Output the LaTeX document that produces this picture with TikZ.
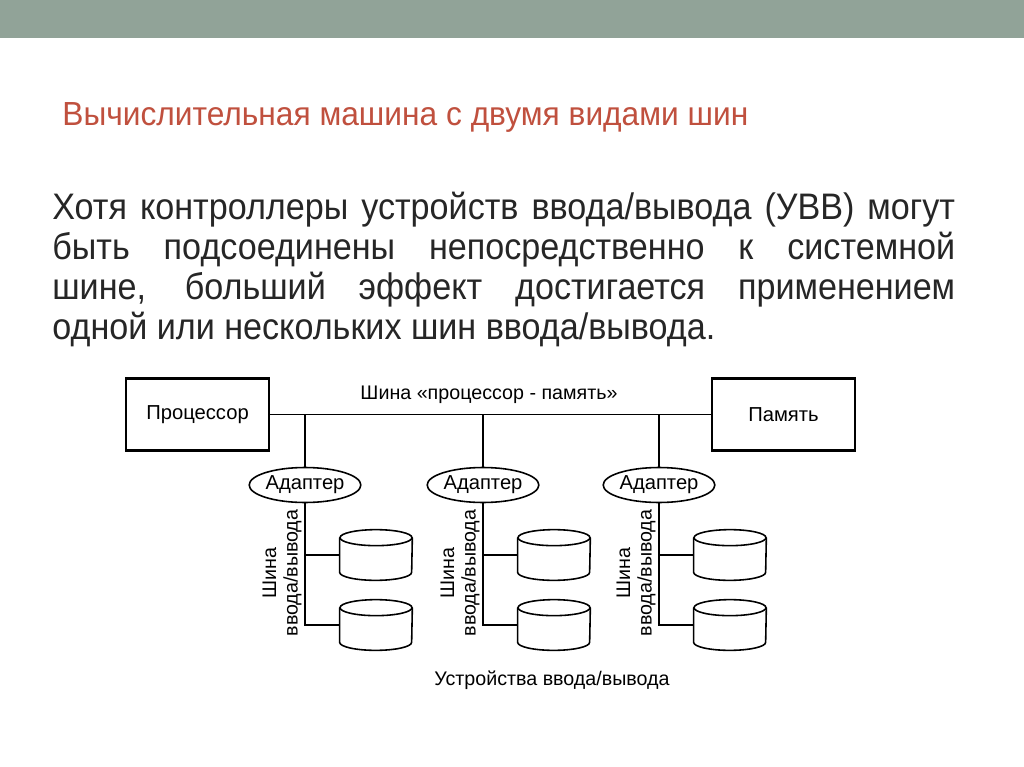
\documentclass[tikz,border=0pt]{standalone}
\usepackage{fontspec}
\setmainfont{Liberation Sans}
\newfontfamily\titlefont[FakeStretch=0.95]{Liberation Sans}
\newfontfamily\slidefont[FakeStretch=0.925]{Liberation Sans}
\usepackage{tikz}
\usetikzlibrary{shapes.geometric}
\definecolor{topband}{RGB}{145,163,152}
\definecolor{titlered}{RGB}{192,80,62}
\definecolor{bodytext}{RGB}{38,38,38}

\tikzset{
	unitbox/.style={draw, line width=1.6pt, minimum width=2.86cm, minimum height=1.44cm, inner sep=0pt, font=\fontsize{11.5}{13}\selectfont},
	adapter/.style={ellipse, draw, line width=0.9pt, minimum width=2.14cm, minimum height=0.7cm, inner sep=0pt, font=\fontsize{11.5}{13}\selectfont},
	disk/.style={minimum width=1.44cm, minimum height=1cm, inner sep=0pt},
	bus/.style={line width=0.9pt},
	buslabel/.style={inner sep=0pt, font=\fontsize{11.2}{12.2}\selectfont}
}

\begin{document}
\begin{tikzpicture}[x=0.02cm, y=-0.02cm]
	\useasboundingbox (0,0) rectangle (1024,767);
	\fill[white] (0,0) rectangle (1024,767);
	\fill[topband] (0,0) rectangle (1024,38);
	
	\node[anchor=base west, inner sep=0pt, text=titlered, font=\titlefont\fontsize{19}{23}\selectfont] (title) at (62,126) {Вычислительная машина с двумя видами шин};
	\node[anchor=north west, inner sep=0pt, text width=18.06cm, align=justify, text=bodytext, font=\slidefont\fontsize{21}{22.7}\selectfont] (body) at (52,192)
		{Хотя контроллеры устройств ввода/вывода (УВВ) могут\linebreak быть подсоединены непосредственно к системной\linebreak шине, больший эффект достигается применением\linebreak одной или нескольких шин ввода/вывода.};
	
	\node[unitbox] (cpu) at (197.5,414.5) {Процессор};
	\node[unitbox] (mem) at (783.5,414.5) {Память};
	\draw[bus] (cpu.east) -- (mem.west);
	\node[buslabel] (bustitle) at (489,395) {Шина «процессор - память»};
	
	\foreach \i/\x in {1/305, 2/483, 3/659} {
		\coordinate (tap\i) at (\x,414.5);
		\node[adapter] (ad\i) at (\x,485) {Адаптер};
		\draw[bus] (tap\i) -- (ad\i.north);
		\foreach \j/\y in {top/555, bot/625} {
			\node[disk] (dk\i\j) at (\x+71,\y) {};
			\draw[bus] ([yshift=-0.16cm]dk\i\j.north) ellipse[x radius=0.72cm, y radius=0.16cm];
			\draw[bus] ([yshift=-0.16cm]dk\i\j.north west) -- ([yshift=0.16cm]dk\i\j.south west)
				arc[start angle=180, end angle=360, x radius=0.72cm, y radius=0.16cm] -- ([yshift=-0.16cm]dk\i\j.north east);
		}
		\draw[bus] (ad\i.south) |- (dk\i bot.west);
		\draw[bus] (ad\i.south |- dk\i top.west) -- (dk\i top.west);
		\node[buslabel, rotate=90, align=center] (iolabel\i) at (\x-23,573) {Шина\\ввода/вывода};
	}
	
	\node[buslabel] (devlabel) at (552,680) {Устройства ввода/вывода};
\end{tikzpicture}
\end{document}
